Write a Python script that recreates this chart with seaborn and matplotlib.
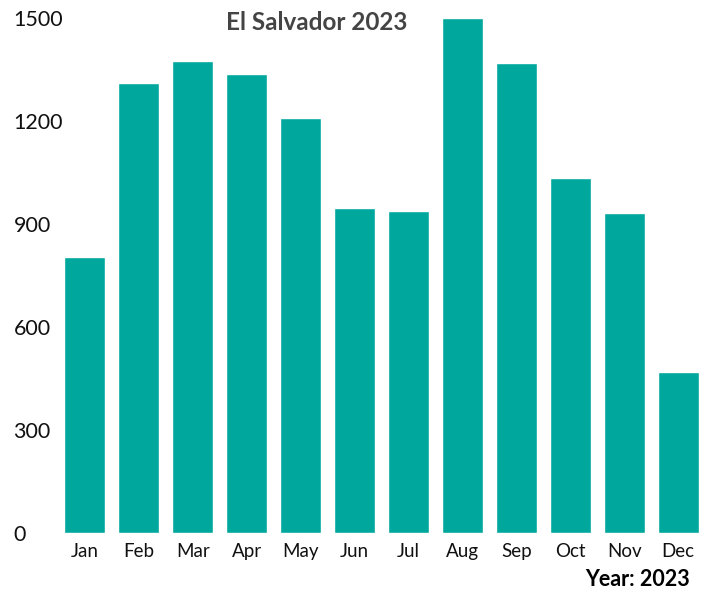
import matplotlib
matplotlib.use("Agg")
import matplotlib.pyplot as plt
import seaborn as sns
import pandas as pd

months = ["Jan", "Feb", "Mar", "Apr", "May", "Jun",
          "Jul", "Aug", "Sep", "Oct", "Nov", "Dec"]
values = [804, 1311, 1375, 1337, 1209, 947, 938, 1500, 1369, 1034, 932, 469]
y_ticks = [0, 300, 600, 900, 1200, 1500]

sns.set_style("white")
plt.rcParams["font.family"] = ["Lato", "DejaVu Sans"]

df = pd.DataFrame({"month": months, "value": values})

fig = plt.figure(figsize=(7.13, 5.96), dpi=100)
ax = fig.add_axes([58 / 713, 1 - 533 / 596, (705 - 58) / 713, (533 - 18) / 596])

sns.barplot(data=df, x="month", y="value", color="#00A79D", saturation=1,
            width=0.76, ax=ax)

ax.set_ylim(0, 1500)
ax.set_xlim(-0.5, 11.5)
ax.set_yticks(y_ticks)
ax.set_xlabel(None)
ax.set_ylabel(None)
sns.despine(ax=ax, left=True, bottom=True)

ax.tick_params(axis="y", length=0, pad=32, labelsize=15.5, labelcolor="#111111")
ax.tick_params(axis="x", length=0, pad=7, labelsize=13.5, labelcolor="#111111")
for lbl in ax.get_yticklabels():
    lbl.set_ha("left")

fig.text(317 / 713, 1 - 22 / 596, "El Salvador 2023", ha="center", va="center",
         fontsize=17.5, fontweight="bold", color="#444444")
fig.text(690 / 713, 1 - 580 / 596, "Year: 2023", ha="right", va="center",
         fontsize=15.5, fontweight="bold", color="#000000")

fig.savefig("out.png", dpi=100)
